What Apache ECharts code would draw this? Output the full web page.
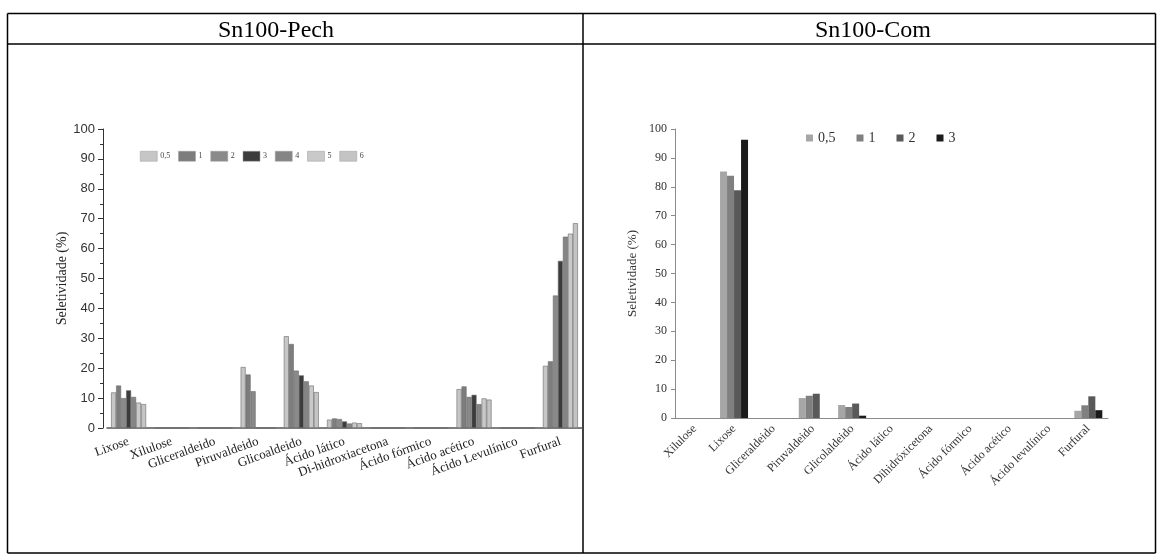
<!DOCTYPE html>
<html>
<head>
<meta charset="utf-8">
<script src="https://cdn.jsdelivr.net/npm/echarts@6/dist/echarts.min.js"></script>
<style>
html,body{margin:0;padding:0;background:#fff;}
#chart{width:1163px;height:560px;}
</style>
</head>
<body>
<div id="chart"></div>
<script>
// ---- Data: Sn100-Pech ----
const pechCategories = ['Lixose','Xilulose','Gliceraldeido','Piruvaldeido','Glicoaldeido','Ácido lático','Di-hidroxiacetona','Ácido fórmico','Ácido acético','Ácido Levulínico','Furfural'];
const pechSeriesNames = ['0,5','1','2','3','4','5','6'];
const pech_05 = [11.9, 0, 0, 20.4, 30.7, 2.8, 0, 0, 13.0, 0, 20.8];
const pech_1  = [14.2, 0, 0, 17.9, 28.1, 3.2, 0, 0, 13.9, 0, 22.3];
const pech_2  = [10.0, 0, 0, 12.3, 19.2, 3.0, 0, 0, 10.4, 0, 44.3];
const pech_3  = [12.6, 0, 0, 0, 17.6, 2.2, 0, 0, 11.1, 0, 55.9];
const pech_4  = [10.4, 0, 0, 0, 15.6, 1.5, 0, 0, 8.0, 0, 64.0];
const pech_5  = [8.5, 0, 0, 0, 14.2, 1.8, 0, 0, 9.9, 0, 65.0];
const pech_6  = [8.0, 0, 0, 0, 12.0, 1.6, 0, 0, 9.5, 0, 68.5];
const pechValues = [pech_05, pech_1, pech_2, pech_3, pech_4, pech_5, pech_6];

// ---- Data: Sn100-Com ----
const comCategories = ['Xilulose','Lixose','Gliceraldeido','Piruvaldeido','Glicolaldeido','Ácido lático','Dihidróxicetona','Ácido fórmico','Ácido acético','Ácido levulínico','Furfural'];
const comSeriesNames = ['0,5','1','2','3'];
const com_05 = [0, 85.3, 0, 6.9, 4.5, 0, 0, 0, 0, 0, 2.5];
const com_1  = [0, 83.8, 0, 7.7, 3.8, 0, 0, 0, 0, 0, 4.4];
const com_2  = [0, 78.8, 0, 8.4, 5.0, 0, 0, 0, 0, 0, 7.5];
const com_3  = [0, 96.3, 0, 0, 0.8, 0, 0, 0, 0, 0, 2.7];
const comValues = [com_05, com_1, com_2, com_3];

const yTicks = [0,10,20,30,40,50,60,70,80,90,100];
const headers = ['Sn100-Pech','Sn100-Com'];

// ---- Styles ----
const SERIF = '"Liberation Serif","Times New Roman",serif';
const SANS = '"Liberation Sans",Arial,sans-serif';
const pechColors = ['#c6c6c6','#7d7d7d','#8a8a8a','#3c3c3c','#858585','#c9c9c9','#c4c4c4'];
const comColors = ['#a6a6a6','#808080','#595959','#1b1b1b'];

const chart = echarts.init(document.getElementById('chart'), null, {renderer:'canvas'});

const series = [];
pechSeriesNames.forEach((n,i)=>{
  series.push({
    name:n, type:'bar', xAxisIndex:0, yAxisIndex:0,
    data:pechValues[i], barWidth:5, barGap:'0%',
    itemStyle:{color:pechColors[i], borderColor:'#6a6a6a', borderWidth:0.6},
    emphasis:{disabled:true}, animation:false
  });
});
comSeriesNames.forEach((n,i)=>{
  series.push({
    name:'c'+n, type:'bar', xAxisIndex:1, yAxisIndex:1,
    data:comValues[i], barWidth:7, barGap:'0%',
    itemStyle:{color:comColors[i]},
    emphasis:{disabled:true}, animation:false
  });
});

const L = 7.5, R = 1155.5, T = 13.5, HB = 44, B = 553, D = 583;
const lineStyle = {stroke:'#000', lineWidth:1.5};

chart.setOption({
  animation:false,
  backgroundColor:'#fff',
  title:[
    {text:headers[0], left:271, top:14, textAlign:'center',
     textStyle:{fontFamily:SERIF, fontSize:24, fontWeight:'normal', color:'#000'}},
    {text:headers[1], left:868, top:14, textAlign:'center',
     textStyle:{fontFamily:SERIF, fontSize:24, fontWeight:'normal', color:'#000'}}
  ],
  graphic:[
    {type:'line', shape:{x1:L,y1:T,x2:R,y2:T}, style:lineStyle, silent:true},
    {type:'line', shape:{x1:L,y1:HB,x2:R,y2:HB}, style:lineStyle, silent:true},
    {type:'line', shape:{x1:L,y1:B,x2:R,y2:B}, style:lineStyle, silent:true},
    {type:'line', shape:{x1:L,y1:T,x2:L,y2:B}, style:lineStyle, silent:true},
    {type:'line', shape:{x1:R,y1:T,x2:R,y2:B}, style:lineStyle, silent:true},
    {type:'line', shape:{x1:D,y1:T,x2:D,y2:B}, style:lineStyle, silent:true}
  ],
  legend:[
    {data:pechSeriesNames, left:135, top:146, itemWidth:17, itemHeight:10, itemGap:8,
     icon:'rect', selectedMode:false,
     itemStyle:{borderColor:'#9a9a9a', borderWidth:0.5},
     textStyle:{fontFamily:SERIF, fontSize:8, color:'#444', padding:[0,0,0,-2]}},
    {data:comSeriesNames.map(n=>({name:'c'+n})), left:801, top:126, itemWidth:7, itemHeight:7, itemGap:21,
     icon:'rect', selectedMode:false,
     formatter:(n)=>n.slice(1),
     textStyle:{fontFamily:SERIF, fontSize:14, color:'#333'}}
  ],
  grid:[
    {left:107, right:1163-582, top:129, bottom:560-428, containLabel:false},
    {left:675, right:1163-1108, top:129, bottom:560-418, containLabel:false}
  ],
  xAxis:[
    {type:'category', gridIndex:0, data:pechCategories,
     axisLine:{lineStyle:{color:'#555', width:1.5}},
     axisTick:{alignWithLabel:true, length:6, lineStyle:{color:'#333'}},
     axisLabel:{rotate:20, margin:13, interval:0, fontFamily:SERIF, fontSize:13, color:'#222'}},
    {type:'category', gridIndex:1, data:comCategories,
     axisLine:{lineStyle:{color:'#8a8a8a', width:1}},
     axisTick:{length:5, lineStyle:{color:'#8a8a8a'}},
     axisLabel:{rotate:45, margin:9, interval:0, fontFamily:SERIF, fontSize:12, color:'#333'}}
  ],
  yAxis:[
    {type:'value', gridIndex:0, min:yTicks[0], max:yTicks[yTicks.length-1], interval:10, offset:4,
     name:'Seletividade (%)', nameLocation:'middle', nameGap:34, nameRotate:90,
     nameTextStyle:{fontFamily:SERIF, fontSize:14, color:'#222'},
     axisLine:{show:true, lineStyle:{color:'#333', width:1}},
     axisTick:{show:true, length:5, lineStyle:{color:'#333'}},
     minorTick:{show:true, splitNumber:2, length:3, lineStyle:{color:'#333'}},
     splitLine:{show:false},
     axisLabel:{fontFamily:SANS, fontSize:13, color:'#333', margin:8}},
    {type:'value', gridIndex:1, min:yTicks[0], max:yTicks[yTicks.length-1], interval:10,
     name:'Seletividade (%)', nameLocation:'middle', nameGap:36, nameRotate:90,
     nameTextStyle:{fontFamily:SERIF, fontSize:13, color:'#333'},
     axisLine:{show:true, lineStyle:{color:'#8a8a8a', width:1}},
     axisTick:{show:true, length:4, lineStyle:{color:'#8a8a8a'}},
     splitLine:{show:false},
     axisLabel:{fontFamily:SERIF, fontSize:12, color:'#333', margin:8}}
  ],
  series:series
});
</script>
</body>
</html>
